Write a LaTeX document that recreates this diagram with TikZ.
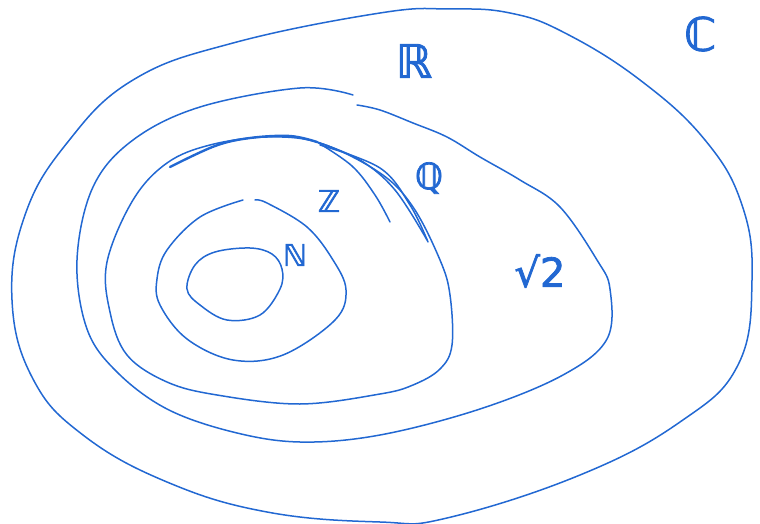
\documentclass[tikz,border=0pt]{standalone}
\usepackage{fontspec}
\newfontfamily\handfont[FakeBold=2]{DejaVu Sans}
\definecolor{ink}{RGB}{34,104,210}
\begin{document}
\begin{tikzpicture}[x=1pt,y=-1pt,
  curve/.style={draw=ink,line width=1.5pt,line cap=round,line join=round},
  scrib/.style={draw=ink,line width=2.4pt,line cap=round},
  lab/.style={text=ink,inner sep=0pt}]
\useasboundingbox (0,0) rectangle (760,524);
% outermost set
\draw[curve] plot[smooth cycle,tension=0.7] coordinates {(380,13) (450,9) (510,13) (565,33) (640,80) (705,140) (742,205) (752,280) (738,365) (680,422) (580,475) (447,518) (380,522) (267,512) (167,482) (83,435) (33,379) (12,300) (25,215) (67,143) (133,80) (233,43)};
% second set (with pen gap)
\draw[curve] plot[smooth,tension=0.6] coordinates {(353,95) (300,88) (200,107) (133,140) (93,187) (77,260) (87,329) (117,372) (167,409) (233,432) (300,442) (380,435) (480,409) (563,375) (607,339) (610,289) (597,260) (560,207) (520,180) (480,157) (447,137) (413,123) (380,110) (357,105)};
% Q
\draw[curve] plot[smooth cycle,tension=0.6] coordinates {(267,137) (320,143) (380,173) (413,207) (440,260) (450,295) (452,345) (440,369) (413,385) (380,394) (300,404) (217,395) (167,382) (127,355) (110,312) (107,262) (133,200) (167,163) (210,145)};
% scribbles on Q's boundary
\draw[scrib] plot[smooth,tension=0.6] coordinates {(170,167) (215,146) (250,138) (290,136) (317,142)};
\draw[curve] plot[smooth,tension=0.6] coordinates {(317,142) (352,166) (375,195) (390,222)};
\draw[curve] plot[smooth,tension=0.6] coordinates {(317,142) (360,160) (395,190) (427,240)};
\draw[curve] plot[smooth,tension=0.6] coordinates {(320,145) (380,168) (410,205) (428,242)};
% Z (with pen gap)
\draw[curve] plot[smooth,tension=0.6] coordinates {(255,200) (267,203) (307,227) (333,260) (346,290) (335,320) (283,355) (233,360) (187,339) (160,305) (157,279) (167,250) (200,217) (243,200)};
% N
\draw[curve] plot[smooth cycle,tension=0.6] coordinates {(187,289) (200,305) (227,320) (260,315) (280,289) (282,269) (272,254) (250,248) (215,252) (195,265)};
% labels
\node[lab,font=\handfont\fontsize{46}{46}\selectfont] (C) at (700,34) {ℂ};
\node[lab,font=\handfont\fontsize{46}{46}\selectfont] (R) at (414,61) {ℝ};
\node[lab,font=\handfont\fontsize{36}{36}\selectfont] (Q) at (429,178) {ℚ};
\node[lab,font=\handfont\fontsize{30}{30}\selectfont] (Z) at (329,201) {ℤ};
\node[lab,font=\handfont\fontsize{30}{30}\selectfont] (N) at (295,255) {ℕ};
\node[lab,font=\handfont\fontsize{40}{40}\selectfont] (s2) at (540,271) {√2};
\end{tikzpicture}
\end{document}
